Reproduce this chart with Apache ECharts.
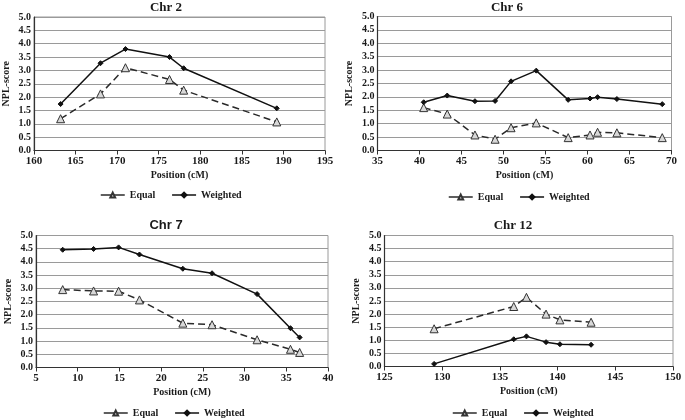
<!DOCTYPE html>
<html><head><meta charset="utf-8">
<script src="https://cdn.jsdelivr.net/npm/echarts@6/dist/echarts.min.js"></script>
<style>html,body{margin:0;padding:0;background:#fff}#c{width:685px;height:420px}</style>
</head><body><div id="c"></div>
<script>
// Chr 2
const chr2EqualX = [163.2, 168.0, 171.0, 176.3, 178.0, 189.2];
const chr2EqualY = [1.19, 2.12, 3.10, 2.66, 2.26, 1.07];
const chr2WeightedX = [163.2, 168.0, 171.0, 176.3, 178.0, 189.2];
const chr2WeightedY = [1.74, 3.27, 3.80, 3.50, 3.08, 1.58];
// Chr 6
const chr6EqualX = [40.5, 43.3, 46.6, 49.0, 50.9, 53.9, 57.7, 60.3, 61.2, 63.5, 68.9];
const chr6EqualY = [1.60, 1.36, 0.58, 0.42, 0.85, 1.03, 0.48, 0.58, 0.68, 0.66, 0.48];
const chr6WeightedX = [40.5, 43.3, 46.6, 49.0, 50.9, 53.9, 57.7, 60.3, 61.2, 63.5, 68.9];
const chr6WeightedY = [1.80, 2.05, 1.84, 1.85, 2.58, 2.98, 1.89, 1.94, 1.99, 1.92, 1.73];
// Chr 7
const chr7EqualX = [8.2, 11.9, 14.9, 17.4, 22.6, 26.1, 31.5, 35.5, 36.6];
const chr7EqualY = [2.95, 2.90, 2.89, 2.56, 1.68, 1.62, 1.05, 0.69, 0.57];
const chr7WeightedX = [8.2, 11.9, 14.9, 17.4, 22.6, 26.1, 31.5, 35.5, 36.6];
const chr7WeightedY = [4.46, 4.49, 4.55, 4.28, 3.74, 3.57, 2.78, 1.49, 1.14];
// Chr 12
const chr12EqualX = [129.3, 136.2, 137.3, 139.0, 140.2, 142.9];
const chr12EqualY = [1.44, 2.29, 2.64, 2.00, 1.78, 1.69];
const chr12WeightedX = [129.3, 136.2, 137.3, 139.0, 140.2, 142.9];
const chr12WeightedY = [0.10, 1.04, 1.15, 0.93, 0.85, 0.83];

const titles = ['Chr 2', 'Chr 6', 'Chr 7', 'Chr 12'];
const xRanges = [[160, 195], [35, 70], [5, 40], [125, 150]];
const yTickLabelsFmt = v => v.toFixed(1);

const panels = [
  {eqX: chr2EqualX, eqY: chr2EqualY, wX: chr2WeightedX, wY: chr2WeightedY},
  {eqX: chr6EqualX, eqY: chr6EqualY, wX: chr6WeightedX, wY: chr6WeightedY},
  {eqX: chr7EqualX, eqY: chr7EqualY, wX: chr7WeightedX, wY: chr7WeightedY},
  {eqX: chr12EqualX, eqY: chr12EqualY, wX: chr12WeightedX, wY: chr12WeightedY}
];

const zip = (a, b) => a.map((v, i) => [v, b[i]]);

// layout: [left, right-edge, top, bottom]
const boxes = [
  [33, 325, 17, 150.5],
  [377.5, 671.5, 16.5, 150.5],
  [36, 328, 235.5, 367.5],
  [384.5, 673, 235.5, 366.5]
];
const titlePos = [[166, 1], [507, 1], [166, 219], [513, 219]];
const legendPos = [[100, 190], [448, 192], [103, 408], [452, 408]];

const serif = 'Liberation Serif';
const ink = '#1a1a1a';

const option = {
  backgroundColor: '#fff',
  animation: false,
  title: titles.map((t, i) => ({
    text: t, left: titlePos[i][0], top: titlePos[i][1], textAlign: 'center', padding: 0,
    textStyle: {fontFamily: i === 2 ? 'Liberation Sans' : serif, fontWeight: 'bold', fontSize: 13, color: ink}
  })),
  legend: legendPos.map((p, i) => ({
    left: p[0], top: p[1], padding: 0, orient: 'horizontal',
    itemWidth: 24, itemHeight: 6, itemGap: 16,
    lineStyle: {type: 'solid', width: 1.5},
    textStyle: {fontFamily: serif, fontWeight: 'bold', fontSize: 10, color: ink},
    data: ['Equal', 'Weighted']
  })),
  grid: boxes.map(b => ({
    left: b[0], top: b[2], width: b[1] - b[0], height: b[3] - b[2],
    show: true, borderColor: '#9a9a9a', borderWidth: 1, backgroundColor: 'transparent'
  })),
  xAxis: xRanges.map((r, i) => ({
    type: 'value', gridIndex: i, min: r[0], max: r[1], interval: 5,
    name: 'Position (cM)', nameLocation: 'middle', nameGap: 20,
    nameTextStyle: {fontFamily: serif, fontWeight: 'bold', fontSize: 10, color: ink},
    axisLine: {show: true, onZero: false, lineStyle: {color: '#333', width: 1.2}},
    axisTick: {show: true, inside: false, length: 4, lineStyle: {color: '#333'}},
    axisLabel: {fontFamily: serif, fontWeight: 'bold', fontSize: 11, color: ink, margin: 5},
    splitLine: {show: false}
  })),
  yAxis: boxes.map((b, i) => ({
    type: 'value', gridIndex: i, min: 0, max: 5, interval: 0.5,
    name: 'NPL-score', nameLocation: 'middle', nameGap: 23, nameRotate: 90,
    nameTextStyle: {fontFamily: serif, fontWeight: 'bold', fontSize: 10, color: ink},
    axisLine: {show: true, lineStyle: {color: '#333', width: 1.2}},
    axisTick: {show: false},
    axisLabel: {fontFamily: serif, fontWeight: 'bold', fontSize: 10, color: ink, margin: 3, formatter: yTickLabelsFmt},
    splitLine: {show: true, lineStyle: {color: '#9a9a9a', width: 1}}
  })),
  series: []
};

panels.forEach((p, i) => {
  option.series.push({
    name: 'Equal', type: 'line', xAxisIndex: i, yAxisIndex: i,
    data: zip(p.eqX, p.eqY),
    symbol: 'triangle', symbolSize: 8,
    itemStyle: {color: '#d8d8d8', borderColor: '#333', borderWidth: 1},
    lineStyle: {color: '#2a2a2a', width: 1.5, type: [7, 4]}
  });
  option.series.push({
    name: 'Weighted', type: 'line', xAxisIndex: i, yAxisIndex: i,
    data: zip(p.wX, p.wY),
    symbol: 'diamond', symbolSize: 5,
    itemStyle: {color: '#111', borderColor: '#111', borderWidth: 1},
    lineStyle: {color: '#111', width: 1.5, type: 'solid'}
  });
});

const chart = echarts.init(document.getElementById('c'), null, {renderer: 'canvas'});
chart.setOption(option);
</script>
</body></html>
